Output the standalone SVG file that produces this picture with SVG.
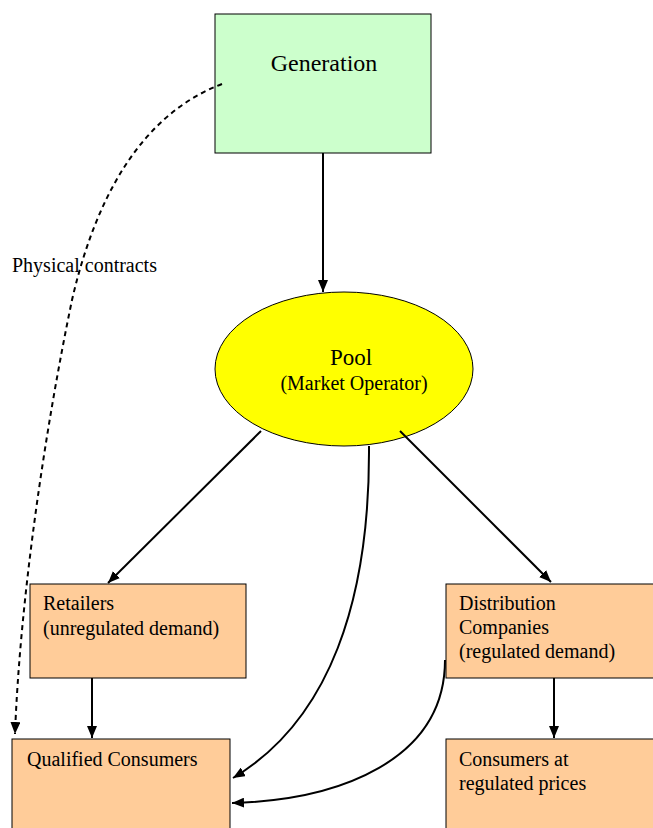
<svg xmlns="http://www.w3.org/2000/svg" width="653" height="828" viewBox="0 0 653 828">
<style>
.box{fill:#FFCC99;stroke:#000;stroke-width:1}
.t{font-family:"Liberation Serif","Times New Roman",serif;fill:#000;font-size:20px}
.c{fill:none;stroke:#000;stroke-width:2}
</style>
<defs>
<marker id="ah" markerUnits="userSpaceOnUse" markerWidth="12" markerHeight="10" viewBox="0 0 12 10" refX="12" refY="5" orient="auto">
<path d="M0,0 L12,5 L0,10 z" fill="#000"/>
</marker>
</defs>
<rect width="653" height="828" fill="#fff"/>
<g id="generation">
<rect x="215" y="14" width="216" height="139" fill="#CCFFCC" stroke="#000" stroke-width="1"/>
<text class="t" x="324" y="71" style="font-size:24px" text-anchor="middle">Generation</text>
</g>
<g id="pool">
<ellipse cx="344" cy="369" rx="129" ry="77" fill="#FFFF00" stroke="#000" stroke-width="1"/>
<text class="t" x="351" y="365" style="font-size:23px" text-anchor="middle">Pool</text>
<text class="t" x="354" y="390" text-anchor="middle">(Market Operator)</text>
</g>
<g id="retailers">
<rect class="box" x="30" y="584" width="216" height="94"/>
<text class="t" x="43" y="610">Retailers</text>
<text class="t" x="43" y="635">(unregulated demand)</text>
</g>
<g id="distribution">
<rect class="box" x="446" y="584" width="215" height="94"/>
<text class="t" x="459" y="610">Distribution</text>
<text class="t" x="459" y="634">Companies</text>
<text class="t" x="459" y="658">(regulated demand)</text>
</g>
<g id="qualified">
<rect class="box" x="12" y="739" width="218" height="100"/>
<text class="t" x="27" y="766">Qualified Consumers</text>
</g>
<g id="regulated">
<rect class="box" x="446" y="739" width="215" height="100"/>
<text class="t" x="459" y="766">Consumers at</text>
<text class="t" x="459" y="790">regulated prices</text>
</g>
<g id="label">
<text class="t" x="12" y="272">Physical contracts</text>
</g>
<g id="connectors">
<path class="c" d="M323,153 L323,292" marker-end="url(#ah)"/>
<path class="c" d="M261,431 L108,583" marker-end="url(#ah)"/>
<path class="c" d="M400,431 L551,582" marker-end="url(#ah)"/>
<path class="c" d="M92,678 L92,738" marker-end="url(#ah)"/>
<path class="c" d="M554,678 L554,738" marker-end="url(#ah)"/>
<path class="c" d="M369,446 C370,600 330,720 233,778" marker-end="url(#ah)"/>
<path class="c" d="M445,660 C445,760 340,800 232,803" marker-end="url(#ah)"/>
<path class="c" d="M222,84 C140,115 95,200 72,300 C45,430 20,600 15,734" stroke-dasharray="5,4" marker-end="url(#ah)"/>
</g>
</svg>
